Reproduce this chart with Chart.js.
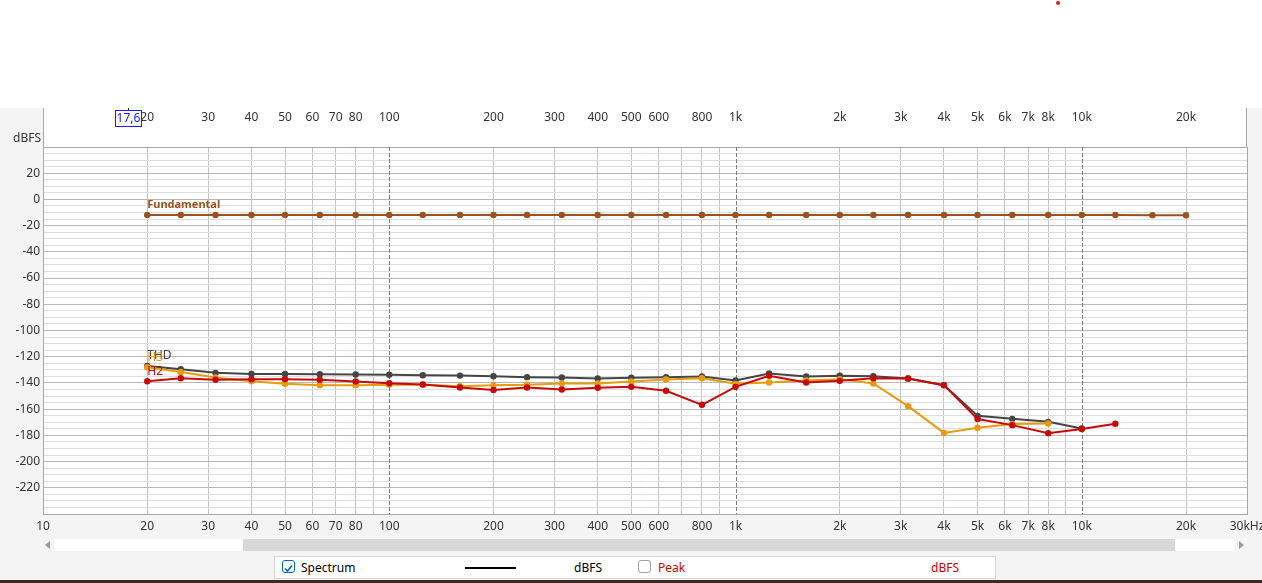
<!DOCTYPE html>
<html>
<head>
<meta charset="utf-8">
<script src="https://cdn.jsdelivr.net/npm/chart.js@4.4.1/dist/chart.umd.min.js"></script>
<style>
  body { margin: 0; width: 1262px; height: 583px; position: relative; overflow: hidden; background: #fff; font-family: "Noto Sans", sans-serif; }
  #panel { position: absolute; left: 0; top: 108px; width: 1262px; height: 475px; background: #f4f4f4; }
  #chart { position: absolute; left: 0; top: 108px; }
  #dot { position: absolute; left: 1056px; top: 1px; width: 4px; height: 4px; border-radius: 2px; background: #d42020; }
  .track { position: absolute; top: 539px; height: 12px; background: #fff; }
  #thumb { position: absolute; top: 539px; height: 12px; left: 243px; width: 932px; background: #d8d8d8; }
  .arr { position: absolute; top: 541px; width: 0; height: 0; border-top: 4px solid transparent; border-bottom: 4px solid transparent; }
  #legend { position: absolute; left: 274px; top: 556px; width: 720px; height: 21px; background: #fff; border: 1px solid #d4d4d4; font-size: 12px; }
  #legend span { position: absolute; top: 2px; line-height: 17px; }
  .cb { position: absolute; top: 3px; width: 11px; height: 11px; border-radius: 3px; }
  #strip { position: absolute; left: 0; top: 580px; width: 1262px; height: 3px; background: #3a2a22; }
</style>
</head>
<body>
<div id="dot"></div>
<div id="panel"></div>
<canvas id="chart" width="1262" height="432"></canvas>
<div class="arr" style="left:45px;border-right:5px solid #9a9a9a;"></div>
<div class="track" style="left:55px;width:188px;"></div>
<div id="thumb"></div>
<div class="track" style="left:1175px;width:60px;"></div>
<div class="arr" style="left:1239px;border-left:5px solid #9a9a9a;"></div>
<div id="legend">
  <div class="cb" style="left:7px;border:1px solid #0067c0;">
    <svg width="11" height="11" viewBox="0 0 11 11"><polyline points="2,5.5 4.5,8 9,2.5" fill="none" stroke="#0067c0" stroke-width="1.6"/></svg>
  </div>
  <span style="left:26px;color:#000;">Spectrum</span>
  <div style="position:absolute;left:190px;top:10px;width:51px;height:2px;background:#000;"></div>
  <span style="left:299px;color:#000;">dBFS</span>
  <div class="cb" style="left:363px;border:1px solid #a0a0a0;"></div>
  <span style="left:383px;color:#d40000;">Peak</span>
  <span style="left:656px;color:#d40000;">dBFS</span>
</div>
<div id="strip"></div>
<script>
// 1/3 octave frequencies (Hz)
const freqs = [20, 25, 31.5, 40, 50, 63, 80, 100, 125, 160, 200, 250, 315, 400, 500, 630, 800,
  1000, 1250, 1600, 2000, 2500, 3150, 4000, 5000, 6300, 8000, 10000, 12500, 16000, 20000];

// levels in dBFS
const fundamental = [-11.8, -11.8, -11.9, -11.8, -11.8, -11.8, -11.8, -11.8, -11.8, -11.8, -11.8,
  -11.8, -11.8, -11.8, -11.8, -11.8, -11.8, -11.8, -11.8, -11.8, -11.8, -11.8, -11.8, -11.8,
  -11.8, -11.8, -11.8, -11.8, -11.9, -12.0, -12.1];
const thd = [-127.0, -129.5, -132.3, -133.1, -133.1, -133.3, -133.6, -133.8, -134.1, -134.4,
  -134.9, -135.6, -135.9, -136.6, -136.1, -135.6, -135.1, -138.1, -132.8, -135.1, -134.5,
  -134.9, -136.6, -141.7, -165.1, -167.4, -169.7, -174.7];
const h2 = [-138.7, -136.4, -137.6, -137.1, -137.1, -137.6, -138.9, -140.2, -141.2, -143.5,
  -145.3, -143.5, -145.0, -143.7, -143.0, -146.0, -156.7, -143.0, -134.6, -139.7, -138.4,
  -136.4, -136.6, -141.7, -167.6, -172.2, -178.3, -175.2, -171.2];
const h3 = [-128.0, -131.6, -135.9, -138.7, -140.7, -141.7, -141.7, -141.4, -141.4, -142.5,
  -141.7, -141.4, -140.4, -140.4, -138.9, -137.4, -136.4, -140.7, -139.7, -138.1, -137.1,
  -140.4, -157.7, -178.1, -174.2, -171.4, -170.9];

const seriesNames = ['H2', 'H3', 'THD', 'Fundamental'];
const seriesValues = [h2, h3, thd, fundamental];
const seriesColors = ['#c80a0a', '#e89b0c', '#454545', '#9c5120'];

// axis ticks
const xTickValues = [10, 20, 30, 40, 50, 60, 70, 80, 90, 100, 200, 300, 400, 500, 600, 700, 800, 900,
  1000, 2000, 3000, 4000, 5000, 6000, 7000, 8000, 9000, 10000, 20000, 30000];
const xTickLabels = ['10', '20', '30', '40', '50', '60', '70', '80', '', '100', '200', '300', '400', '500', '600', '', '800', '',
  '1k', '2k', '3k', '4k', '5k', '6k', '7k', '8k', '', '10k', '20k', '30kHz'];
const yTickLabels = [20, 0, -20, -40, -60, -80, -100, -120, -140, -160, -180, -200, -220];
const xMin = 10, xMax = 30000, yMin = -240, yMax = 40;
const decades = [100, 1000, 10000];
const cursorValue = 17.6;

const FONT = '"Noto Sans", sans-serif';
const tickFont = { family: FONT, size: 12 };

const datasets = seriesNames.map((name, i) => ({
  label: name,
  data: seriesValues[i].map((v, j) => ({ x: freqs[j], y: v })),
  borderColor: seriesColors[i],
  backgroundColor: seriesColors[i],
  borderWidth: 2,
  pointRadius: 2.2,
  pointHoverRadius: 2.2,
  tension: 0,
}));

function xGridColor(ctx) {
  const v = ctx.tick && ctx.tick.value;
  if (v === xMin || v === xMax) return '#a8a8a8';
  if (decades.includes(v)) return 'rgba(0,0,0,0)';
  return '#c4c4c4';
}

// keep the plot box fixed: no extra room for edge labels
function noPad(s) {
  s.paddingLeft = 0;
  s.paddingRight = 0;
  s.paddingTop = 0;
  s.paddingBottom = 0;
}

const decor = {
  id: 'decor',
  beforeDraw(chart) {
    const { ctx, chartArea: a } = chart;
    ctx.save();
    ctx.fillStyle = '#f4f4f4';
    ctx.fillRect(0, 0, chart.width, chart.height);
    ctx.fillStyle = '#fff';
    ctx.fillRect(a.left, 0, a.right - a.left, a.bottom);
    ctx.strokeStyle = '#a8a8a8';
    ctx.lineWidth = 1;
    ctx.beginPath();
    ctx.moveTo(Math.round(a.left) + 0.5, 0);
    ctx.lineTo(Math.round(a.left) + 0.5, a.top);
    ctx.moveTo(Math.round(a.right) - 0.5, 0);
    ctx.lineTo(Math.round(a.right) - 0.5, a.top);
    ctx.stroke();
    ctx.restore();
  },
  beforeDatasetsDraw(chart) {
    const { ctx, chartArea: a } = chart;
    const x = chart.scales.x;
    ctx.save();
    ctx.strokeStyle = '#7c7c7c';
    ctx.lineWidth = 1;
    ctx.setLineDash([4, 2]);
    decades.forEach(v => {
      const px = Math.round(x.getPixelForValue(v)) + 0.5;
      ctx.beginPath();
      ctx.moveTo(px, a.top);
      ctx.lineTo(px, a.bottom);
      ctx.stroke();
    });
    ctx.restore();
  },
  afterDraw(chart) {
    const { ctx, chartArea: a } = chart;
    ctx.save();
    // series names next to the first point
    const order = ['Fundamental', 'THD', 'H3', 'H2'];
    order.forEach(name => {
      const i = seriesNames.indexOf(name);
      const p = chart.getDatasetMeta(i).data[0];
      ctx.font = (name === 'Fundamental' ? 'bold 11px ' : '12px ') + FONT;
      ctx.fillStyle = seriesColors[i];
      ctx.textAlign = 'left';
      ctx.textBaseline = 'middle';
      ctx.fillText(name, p.x, p.y - 10);
    });
    // y unit
    ctx.font = '12px ' + FONT;
    ctx.fillStyle = '#333';
    ctx.textAlign = 'right';
    ctx.fillText('dBFS', a.left - 2, a.top - 8);
    // cursor readout
    const cx = Math.round(chart.scales.x.getPixelForValue(cursorValue));
    ctx.strokeStyle = '#1a1aff';
    ctx.lineWidth = 1;
    ctx.strokeRect(cx - 12.5, 2.5, 26, 16);
    ctx.fillStyle = '#1a1aff';
    ctx.textAlign = 'center';
    ctx.fillText('17,6', cx + 0.5, 11);
    ctx.strokeStyle = '#333';
    ctx.beginPath();
    ctx.moveTo(cx + 0.5, 0);
    ctx.lineTo(cx + 0.5, 2);
    ctx.stroke();
    ctx.restore();
  }
};

new Chart(document.getElementById('chart'), {
  type: 'line',
  data: { datasets },
  plugins: [decor],
  options: {
    responsive: false,
    animation: false,
    devicePixelRatio: 1,
    layout: { autoPadding: false, padding: { left: 0, right: 15, top: 0, bottom: 0 } },
    plugins: { legend: { display: false }, tooltip: { enabled: false } },
    scales: {
      x: {
        type: 'logarithmic',
        position: 'bottom',
        min: xMin,
        max: xMax,
        afterBuildTicks: s => { s.ticks = xTickValues.map(v => ({ value: v })); },
        afterFit: s => { s.height = 26; noPad(s); },
        ticks: {
          autoSkip: false,
          maxRotation: 0,
          padding: 5,
          color: '#333',
          font: tickFont,
          callback: v => xTickLabels[xTickValues.indexOf(v)] || '',
        },
        grid: { color: xGridColor, lineWidth: 1, drawTicks: false },
        border: { color: '#a8a8a8' },
      },
      x2: {
        type: 'logarithmic',
        position: 'top',
        min: xMin,
        max: xMax,
        afterBuildTicks: s => { s.ticks = xTickValues.map(v => ({ value: v })); },
        afterFit: s => { s.height = 39; noPad(s); },
        ticks: {
          autoSkip: false,
          maxRotation: 0,
          padding: 22,
          color: '#333',
          font: tickFont,
          callback: v => (v === xMin || v === xMax) ? '' : (xTickLabels[xTickValues.indexOf(v)] || ''),
        },
        grid: { display: false, drawTicks: false },
        border: { display: false },
      },
      y: {
        min: yMin,
        max: yMax,
        afterBuildTicks: s => {
          const t = [];
          for (let v = yMin; v <= yMax; v += 5) t.push({ value: v });
          s.ticks = t;
        },
        afterFit: s => { s.width = 43; noPad(s); },
        ticks: {
          autoSkip: false,
          padding: 3,
          color: '#333',
          font: tickFont,
          callback: v => yTickLabels.includes(v) ? String(v) : '',
        },
        grid: {
          drawTicks: false,
          color: ctx => {
            const v = ctx.tick && ctx.tick.value;
            if (v === yMin || v === yMax) return '#a8a8a8';
            return v % 20 === 0 ? '#b8b8b8' : '#dedede';
          },
        },
        border: { color: '#a8a8a8' },
      },
    },
  },
});
</script>
</body>
</html>
